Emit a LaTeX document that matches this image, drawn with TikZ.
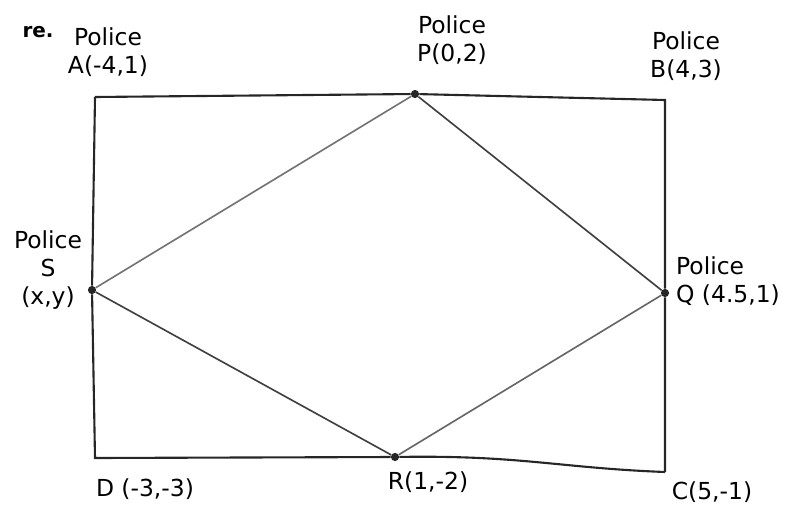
\documentclass[tikz,border=0pt]{standalone}
\usepackage{fontspec}
\setmainfont{DejaVu Sans}
\usepackage{tikz}
\usetikzlibrary{positioning}

\begin{document}
\begin{tikzpicture}[x=0.03cm, y=-0.03cm,
  font=\fontsize{20}{24}\selectfont,
  edge/.style={line width=1.8pt, black!85},
  diag/.style={line width=1.4pt, black!75},
  pt/.style={circle, fill=black!85, inner sep=0pt, minimum size=7pt},
  lab/.style={align=center, inner sep=1pt}]
\useasboundingbox (0,0) rectangle (810,506);
% ---- corners and police points ----
\coordinate (A) at (95,97);
\coordinate (B) at (665,100);
\coordinate (C) at (665,472);
\coordinate (D) at (95,458);
\node[pt] (P) at (415,94) {};
\node[pt] (Q) at (665,293) {};
\node[pt] (R) at (395,457) {};
\node[pt] (S) at (92,290) {};
% ---- outer boundary ----
\draw[edge] (A) -- (P) -- (B) -- (Q) -- (C);
\draw[edge] (C) .. controls (560,468) and (520,455) .. (R) -- (D) -- (S) -- (A);
% ---- inner quadrilateral ----
\draw[diag] (P) -- (Q);
\draw[diag, black!60] (Q) -- (R);
\draw[diag] (R) -- (S);
\draw[diag, black!55] (S) -- (P);
% ---- labels ----
\node[font=\fontsize{17}{20}\selectfont\bfseries] (re) at (38,32) {re.};
\node[lab] (labA) at (108,52) {Police\\A(-4,1)};
\node[lab] (labP) at (452,40) {Police\\P(0,2)};
\node[lab] (labB) at (686,56) {Police\\B(4,3)};
\node[lab] (labS) at (48,270) {Police\\S\\(x,y)};
\node[lab, align=left] (labQ) at (728,281) {Police\\Q (4.5,1)};
\node[lab] (labD) at (145,489) {D (-3,-3)};
\node[lab] (labR) at (428,482) {R(1,-2)};
\node[lab] (labC) at (712,492) {C(5,-1)};
\end{tikzpicture}
\end{document}
